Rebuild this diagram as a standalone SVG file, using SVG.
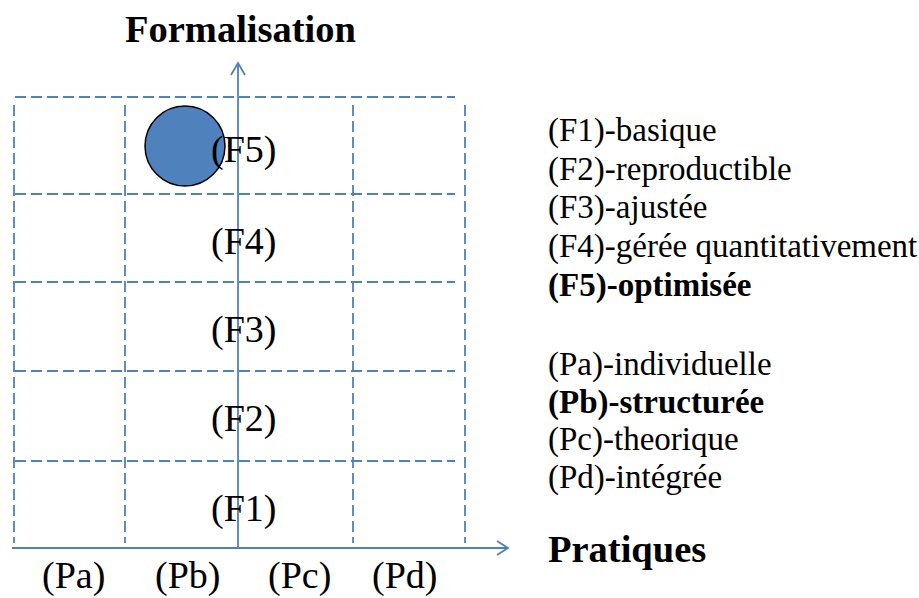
<svg xmlns="http://www.w3.org/2000/svg" width="919" height="598" viewBox="0 0 919 598">
<style>
.grid{stroke:#4F81BD;stroke-width:1.8;stroke-dasharray:11 5;fill:none}
.axis{stroke:#4F81BD;stroke-width:1.8;fill:none}
text{font-family:'Liberation Serif','Times New Roman',Times,'DejaVu Serif',serif;fill:#000}
.lbl{font-size:38px}
.ttl{font-size:38.5px}
.leg{font-size:33px}
.b{font-weight:bold}
</style>
<rect width="919" height="598" fill="#fff"/>
<g id="grid">
<line class="grid" x1="15" y1="97" x2="455" y2="97"/>
<line class="grid" x1="15" y1="194" x2="455" y2="194"/>
<line class="grid" x1="15" y1="282" x2="455" y2="282"/>
<line class="grid" x1="15" y1="371" x2="455" y2="371"/>
<line class="grid" x1="15" y1="461" x2="455" y2="461"/>
<line class="grid" x1="14" y1="105" x2="14" y2="543"/>
<line class="grid" x1="125" y1="105" x2="125" y2="543"/>
<line class="grid" x1="353" y1="105" x2="353" y2="543"/>
<line class="grid" x1="465" y1="105" x2="465" y2="543"/>
</g>
<g id="marker-circle">
<circle cx="185" cy="146" r="40" fill="#4F81BD" stroke="#000" stroke-width="1.5"/>
</g>
<g id="connectors">
<line class="axis" x1="238" y1="548" x2="238" y2="63"/>
<polyline class="axis" points="231,75 238,63 245,75"/>
<line class="axis" x1="12" y1="548" x2="508" y2="548"/>
<polyline class="axis" points="497,541 508,548 497,555"/>
</g>
<g id="axis-labels">
<text class="ttl b" x="125" y="42">Formalisation</text>
<text class="ttl b" x="548" y="562">Pratiques</text>
</g>
<g id="levels">
<text class="lbl" x="211" y="162">(F5)</text>
<text class="lbl" x="211" y="254">(F4)</text>
<text class="lbl" x="211" y="342">(F3)</text>
<text class="lbl" x="211" y="431">(F2)</text>
<text class="lbl" x="211" y="521">(F1)</text>
</g>
<g id="practices">
<text class="lbl" x="42" y="588">(Pa)</text>
<text class="lbl" x="155" y="588">(Pb)</text>
<text class="lbl" x="268" y="588">(Pc)</text>
<text class="lbl" x="372" y="588">(Pd)</text>
</g>
<g id="legend">
<text class="leg" x="548" y="141">(F1)-basique</text>
<text class="leg" x="548" y="180">(F2)-reproductible</text>
<text class="leg" x="548" y="218">(F3)-ajustée</text>
<text class="leg" x="548" y="257">(F4)-gérée quantitativement</text>
<text class="leg b" x="548" y="296">(F5)-optimisée</text>
<text class="leg" x="548" y="375">(Pa)-individuelle</text>
<text class="leg b" x="548" y="413">(Pb)-structurée</text>
<text class="leg" x="548" y="450">(Pc)-theorique</text>
<text class="leg" x="548" y="488">(Pd)-intégrée</text>
</g>
</svg>
